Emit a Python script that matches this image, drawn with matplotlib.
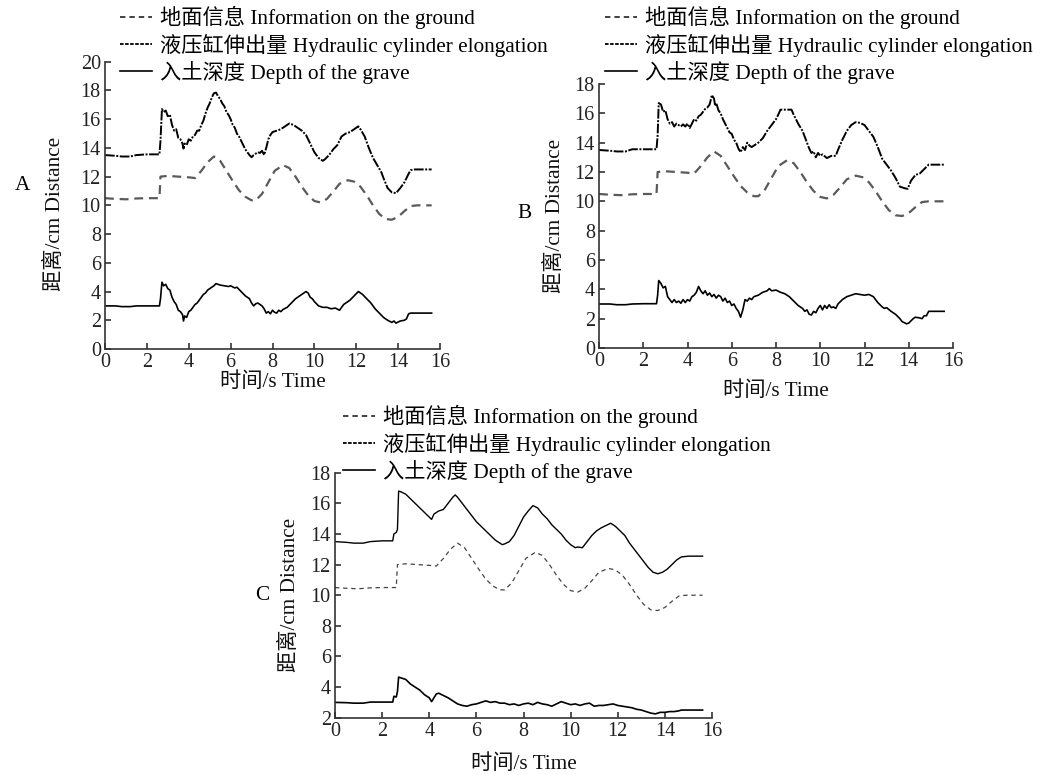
import matplotlib
matplotlib.use("Agg")
import matplotlib.pyplot as plt
from matplotlib.lines import Line2D

FAM = ['Liberation Serif', 'Noto Sans CJK SC', 'DejaVu Sans']
plt.rcParams['font.family'] = FAM
plt.rcParams['axes.unicode_minus'] = False

# ---------------- data ----------------
legend_labels = ['地面信息 Information on the ground',
                 '液压缸伸出量 Hydraulic cylinder elongation',
                 '入土深度 Depth of the grave']
x_label = '时间/s Time'
y_label = '距离/cm Distance'
panel_names = ['A', 'B', 'C']
x_ticks = [0, 2, 4, 6, 8, 10, 12, 14, 16]
y_ticks_AB = [[0, 2, 4, 6, 8, 10, 12, 14, 16, 18, 20],
              [0, 2, 4, 6, 8, 10, 12, 14, 16, 18]]
y_ticks_C = [2, 4, 6, 8, 10, 12, 14, 16, 18]

ground_t = [0, 0.5, 1.0, 1.5, 2.0, 2.6, 2.65, 3.0, 3.5, 4.0, 4.3, 4.6, 4.9, 5.2,
            5.5, 5.8, 6.1, 6.4, 6.7, 7.0, 7.2, 7.5, 7.8, 8.1, 8.5, 8.8, 9.1, 9.4,
            9.7, 10.0, 10.3, 10.6, 10.9, 11.2, 11.6, 11.9, 12.2, 12.5, 12.8, 13.1,
            13.4, 13.7, 14.0, 14.3, 14.6, 14.9, 15.6]
ground_v = [10.5, 10.45, 10.42, 10.48, 10.5, 10.5, 12.0, 12.05, 12.0, 11.95, 11.9,
            12.4, 13.0, 13.4, 13.1, 12.4, 11.7, 11.05, 10.6, 10.35, 10.35, 10.8, 11.6,
            12.4, 12.8, 12.6, 12.0, 11.3, 10.7, 10.3, 10.2, 10.45, 10.95, 11.5, 11.75,
            11.65, 11.3, 10.7, 10.0, 9.4, 9.05, 9.0, 9.2, 9.6, 9.95, 10.0, 10.0]

cyl_A = [(0, 13.5), (0.5, 13.45), (0.8, 13.4), (1.2, 13.4), (1.5, 13.5), (2.0, 13.55),
         (2.6, 13.55), (2.65, 14.5), (2.72, 16.7), (2.8, 16.5), (2.9, 16.6), (3.0, 16.2),
         (3.1, 16.3), (3.2, 15.6), (3.3, 15.2), (3.4, 15.3), (3.5, 14.7), (3.6, 14.6),
         (3.7, 14.3), (3.75, 13.95), (3.8, 14.3), (3.9, 14.2), (4.0, 14.6), (4.1, 14.5),
         (4.2, 14.8), (4.3, 14.9), (4.4, 15.2), (4.5, 15.2), (4.6, 15.6), (4.7, 15.9),
         (4.8, 16.4), (4.9, 16.8), (5.0, 17.1), (5.1, 17.5), (5.2, 17.8), (5.3, 17.85),
         (5.4, 17.6), (5.5, 17.4), (5.6, 17.1), (5.7, 16.9), (5.8, 16.5), (5.9, 16.3),
         (6.0, 16.0), (6.1, 15.6), (6.2, 15.4), (6.3, 15.0), (6.4, 14.8), (6.5, 14.5),
         (6.6, 14.2), (6.7, 13.9), (6.8, 13.7), (6.9, 13.5), (7.0, 13.35), (7.1, 13.5),
         (7.2, 13.6), (7.3, 13.7), (7.4, 13.65), (7.5, 13.8), (7.6, 13.5), (7.7, 14.0),
         (7.8, 14.6), (7.9, 14.9), (8.0, 15.1), (8.2, 15.2), (8.4, 15.3), (8.6, 15.5),
         (8.8, 15.7), (9.0, 15.6), (9.2, 15.4), (9.4, 15.2), (9.6, 14.9), (9.8, 14.3),
         (10.0, 13.7), (10.2, 13.3), (10.4, 13.1), (10.5, 13.2), (10.7, 13.5), (10.9, 13.9),
         (11.1, 14.2), (11.3, 14.8), (11.5, 15.0), (11.7, 15.1), (11.9, 15.3), (12.1, 15.5),
         (12.2, 15.3), (12.4, 14.8), (12.6, 14.0), (12.8, 13.3), (13.0, 12.8), (13.2, 12.3),
         (13.3, 11.9), (13.5, 11.2), (13.7, 10.9), (13.9, 10.85), (14.1, 11.2), (14.3, 11.6),
         (14.5, 12.2), (14.6, 12.45), (14.8, 12.5), (15.6, 12.5)]

depth_A = [(0, 3.0), (0.5, 3.0), (0.8, 2.95), (1.2, 2.95), (1.5, 3.0), (2.0, 3.0),
           (2.6, 3.0), (2.65, 3.5), (2.72, 4.65), (2.8, 4.4), (2.9, 4.5), (3.0, 4.2),
           (3.1, 4.1), (3.2, 3.6), (3.3, 3.3), (3.4, 3.1), (3.5, 2.7), (3.6, 2.6),
           (3.7, 2.4), (3.75, 1.95), (3.8, 2.3), (3.9, 2.2), (4.0, 2.6), (4.1, 2.7),
           (4.2, 2.9), (4.3, 3.1), (4.4, 3.2), (4.5, 3.4), (4.6, 3.6), (4.7, 3.8),
           (4.8, 3.9), (4.9, 4.1), (5.0, 4.2), (5.1, 4.3), (5.2, 4.4), (5.3, 4.55),
           (5.4, 4.5), (5.5, 4.45), (5.7, 4.4), (5.9, 4.35), (6.0, 4.4), (6.2, 4.25),
           (6.3, 4.3), (6.5, 4.0), (6.7, 3.7), (6.9, 3.5), (7.0, 3.2), (7.1, 3.0),
           (7.2, 3.15), (7.3, 3.2), (7.4, 3.1), (7.5, 3.0), (7.6, 2.8), (7.7, 2.5),
           (7.8, 2.6), (7.9, 2.45), (8.0, 2.7), (8.1, 2.55), (8.2, 2.5), (8.3, 2.7),
           (8.4, 2.6), (8.5, 2.75), (8.7, 2.9), (8.9, 3.2), (9.1, 3.5), (9.3, 3.7),
           (9.5, 3.9), (9.6, 4.0), (9.7, 3.9), (9.8, 3.6), (9.9, 3.5), (10.0, 3.3),
           (10.2, 3.0), (10.4, 2.9), (10.6, 2.9), (10.8, 2.8), (11.0, 2.85), (11.2, 2.7),
           (11.3, 2.9), (11.4, 3.1), (11.5, 3.2), (11.7, 3.4), (11.9, 3.7), (12.1, 4.0),
           (12.3, 3.8), (12.5, 3.5), (12.7, 3.2), (12.9, 2.8), (13.1, 2.5), (13.3, 2.2),
           (13.5, 2.0), (13.7, 1.85), (13.8, 1.95), (13.9, 1.8), (14.1, 1.95), (14.3, 2.0),
           (14.4, 2.1), (14.5, 2.45), (14.6, 2.5), (15.6, 2.5)]

cyl_B = [(0, 13.5), (0.5, 13.45), (0.8, 13.4), (1.2, 13.4), (1.5, 13.55), (2.0, 13.55),
         (2.6, 13.55), (2.65, 14.5), (2.7, 16.7), (2.8, 16.6), (2.9, 16.1), (3.0, 16.2),
         (3.1, 15.6), (3.2, 15.3), (3.3, 15.4), (3.4, 15.1), (3.5, 15.3), (3.6, 15.2),
         (3.7, 15.1), (3.8, 15.25), (3.9, 15.1), (4.0, 15.3), (4.1, 15.0), (4.2, 15.3),
         (4.3, 15.6), (4.4, 15.5), (4.5, 15.8), (4.6, 15.9), (4.7, 16.1), (4.8, 16.3),
         (4.9, 16.4), (5.0, 16.6), (5.05, 16.9), (5.1, 17.25), (5.2, 17.0), (5.25, 16.5),
         (5.3, 16.7), (5.4, 16.2), (5.5, 16.0), (5.6, 15.6), (5.7, 15.3), (5.8, 15.0),
         (5.9, 14.7), (6.0, 14.6), (6.1, 14.2), (6.2, 14.0), (6.3, 13.6), (6.4, 13.35),
         (6.5, 13.7), (6.6, 13.5), (6.7, 14.0), (6.8, 13.8), (6.9, 13.7), (7.0, 13.8),
         (7.2, 14.0), (7.4, 14.3), (7.6, 14.8), (7.8, 15.2), (8.0, 15.6), (8.1, 15.9),
         (8.2, 16.25), (8.7, 16.25), (8.8, 15.9), (9.0, 15.3), (9.2, 14.8), (9.4, 14.0),
         (9.5, 13.6), (9.6, 13.3), (9.7, 13.4), (9.8, 13.0), (9.9, 13.3), (10.0, 13.1),
         (10.1, 13.2), (10.3, 12.95), (10.5, 13.1), (10.7, 13.1), (10.8, 13.5), (11.0, 14.2),
         (11.2, 14.8), (11.4, 15.2), (11.6, 15.4), (11.8, 15.35), (12.0, 15.2), (12.2, 14.8),
         (12.4, 14.4), (12.6, 13.7), (12.8, 12.9), (13.0, 12.5), (13.2, 12.1), (13.4, 11.6),
         (13.6, 11.0), (13.8, 10.9), (13.95, 10.85), (14.1, 11.4), (14.3, 11.8), (14.5, 11.9),
         (14.7, 12.2), (14.9, 12.5), (15.6, 12.5)]

depth_B = [(0, 3.0), (0.5, 3.0), (0.8, 2.95), (1.2, 2.95), (1.5, 3.0), (2.0, 3.02),
           (2.6, 3.02), (2.65, 3.6), (2.7, 4.6), (2.8, 4.4), (2.9, 4.1), (3.0, 4.2),
           (3.1, 3.5), (3.2, 3.3), (3.3, 3.1), (3.4, 3.3), (3.5, 3.1), (3.6, 3.2),
           (3.7, 3.05), (3.8, 3.3), (3.9, 3.1), (4.0, 3.3), (4.1, 3.2), (4.2, 3.5),
           (4.3, 3.6), (4.4, 3.8), (4.5, 4.2), (4.6, 3.9), (4.7, 3.7), (4.8, 3.9),
           (4.9, 3.6), (5.0, 3.75), (5.1, 3.5), (5.2, 3.65), (5.3, 3.4), (5.4, 3.6),
           (5.5, 3.5), (5.6, 3.2), (5.7, 3.4), (5.8, 3.1), (5.9, 3.2), (6.0, 2.9),
           (6.1, 3.0), (6.2, 2.7), (6.3, 2.5), (6.4, 2.1), (6.5, 2.6), (6.6, 3.3),
           (6.7, 3.2), (6.8, 3.4), (6.9, 3.3), (7.0, 3.5), (7.2, 3.6), (7.4, 3.8),
           (7.6, 3.9), (7.7, 4.05), (7.8, 3.9), (8.0, 3.95), (8.2, 3.8), (8.4, 3.7),
           (8.6, 3.5), (8.8, 3.2), (9.0, 2.9), (9.2, 2.7), (9.3, 2.5), (9.4, 2.6),
           (9.5, 2.3), (9.6, 2.25), (9.7, 2.5), (9.8, 2.4), (9.9, 2.7), (10.0, 2.9),
           (10.1, 2.6), (10.2, 2.9), (10.3, 2.7), (10.4, 2.95), (10.5, 2.75), (10.6, 2.8),
           (10.7, 2.7), (10.8, 3.0), (11.0, 3.3), (11.2, 3.5), (11.4, 3.6), (11.6, 3.7),
           (11.8, 3.65), (12.0, 3.6), (12.2, 3.65), (12.4, 3.5), (12.6, 3.1), (12.8, 2.8),
           (12.9, 2.7), (13.0, 2.75), (13.2, 2.5), (13.4, 2.3), (13.6, 2.0), (13.7, 1.8),
           (13.9, 1.65), (14.0, 1.7), (14.2, 2.0), (14.3, 2.1), (14.5, 2.05), (14.6, 2.0),
           (14.7, 2.2), (14.8, 2.2), (14.9, 2.5), (15.6, 2.5)]

cyl_C = [(0, 13.5), (0.5, 13.45), (0.8, 13.4), (1.2, 13.4), (1.5, 13.5), (2.0, 13.55),
         (2.45, 13.55), (2.5, 14.0), (2.6, 14.1), (2.65, 14.3), (2.7, 16.8), (2.8, 16.75),
         (3.0, 16.6), (3.2, 16.3), (3.4, 16.0), (3.6, 15.7), (3.8, 15.4), (4.0, 15.1),
         (4.1, 14.95), (4.2, 15.3), (4.4, 15.5), (4.6, 15.6), (4.8, 16.0), (5.0, 16.4),
         (5.1, 16.55), (5.2, 16.4), (5.4, 16.0), (5.6, 15.6), (5.8, 15.2), (6.0, 14.8),
         (6.2, 14.5), (6.4, 14.2), (6.6, 13.9), (6.8, 13.6), (7.0, 13.4), (7.1, 13.3),
         (7.2, 13.35), (7.4, 13.5), (7.6, 13.9), (7.8, 14.5), (8.0, 15.1), (8.2, 15.5),
         (8.4, 15.85), (8.6, 15.7), (8.8, 15.3), (9.0, 15.0), (9.2, 14.6), (9.4, 14.3),
         (9.6, 14.0), (9.8, 13.6), (10.0, 13.3), (10.2, 13.1), (10.3, 13.15), (10.5, 13.1),
         (10.7, 13.5), (10.9, 13.9), (11.1, 14.2), (11.3, 14.4), (11.5, 14.55), (11.7, 14.7),
         (11.9, 14.5), (12.1, 14.2), (12.3, 13.9), (12.5, 13.4), (12.7, 13.0), (12.9, 12.6),
         (13.1, 12.2), (13.3, 11.8), (13.5, 11.5), (13.7, 11.4), (13.9, 11.5), (14.1, 11.7),
         (14.3, 12.0), (14.5, 12.3), (14.7, 12.5), (15.0, 12.55), (15.6, 12.55)]

depth_C = [(0, 3.0), (0.5, 2.98), (0.8, 2.95), (1.2, 2.95), (1.5, 3.02), (2.0, 3.02),
           (2.45, 3.02), (2.5, 3.4), (2.6, 3.35), (2.65, 3.7), (2.7, 4.65), (2.8, 4.6),
           (3.0, 4.5), (3.2, 4.2), (3.4, 4.0), (3.6, 3.8), (3.8, 3.5), (4.0, 3.3),
           (4.1, 3.05), (4.2, 3.3), (4.3, 3.55), (4.4, 3.6), (4.6, 3.45), (4.8, 3.3),
           (5.0, 3.1), (5.2, 2.9), (5.4, 2.8), (5.6, 2.75), (5.8, 2.85), (6.0, 2.9),
           (6.2, 3.0), (6.4, 3.1), (6.6, 3.0), (6.8, 3.05), (7.0, 2.95), (7.2, 2.95),
           (7.4, 2.85), (7.6, 2.9), (7.8, 2.8), (8.0, 2.9), (8.2, 2.95), (8.4, 2.85),
           (8.6, 3.0), (8.8, 2.9), (9.0, 2.85), (9.2, 2.75), (9.4, 2.9), (9.6, 3.05),
           (9.8, 2.95), (10.0, 2.85), (10.2, 2.9), (10.4, 2.8), (10.6, 2.9), (10.8, 2.95),
           (11.0, 2.75), (11.2, 2.8), (11.4, 2.8), (11.6, 2.85), (11.8, 2.9), (12.0, 2.8),
           (12.2, 2.75), (12.4, 2.7), (12.6, 2.65), (12.8, 2.55), (13.0, 2.5), (13.2, 2.4),
           (13.4, 2.3), (13.6, 2.25), (13.8, 2.35), (14.0, 2.35), (14.2, 2.4), (14.4, 2.4),
           (14.6, 2.45), (14.7, 2.5), (15.6, 2.5)]

# ---------------- figure ----------------
W, H = 1043, 775
fig = plt.figure(figsize=(W / 100, H / 100), dpi=100)
FS = 14.5
LFS = 15.3


def px_axes(l, t, r, b):
    return fig.add_axes([l / W, 1 - b / H, (r - l) / W, (b - t) / H])


panels = [
    dict(box=(105, 61.7, 440, 349), ylim=(0, 20), yt=y_ticks_AB[0], cyl=cyl_A, dep=depth_A,
         leg=(120, 6), name_xy=(15, 185), ylab=(-0.119, 0.47), xlab=(0.5, -0.08), thin=False),
    dict(box=(599, 84, 953, 348), ylim=(0, 18), yt=y_ticks_AB[1], cyl=cyl_B, dep=depth_B,
         leg=(605, 6), name_xy=(517, 214), ylab=(-0.096, 0.5), xlab=(0.5, -0.125), thin=False),
    dict(box=(335, 472.7, 712, 717.7), ylim=(2, 18), yt=y_ticks_C, cyl=cyl_C, dep=depth_C,
         leg=(343, 405), name_xy=(255, 596), ylab=(-0.093, 0.5), xlab=(0.5, -0.148), thin=True),
]

for name, p in zip(panel_names, panels):
    ax = px_axes(*p['box'])
    if p['thin']:
        g_style = dict(color='#444444', lw=0.9, linestyle=(0, (3.5, 3)))
        c_style = dict(color='black', lw=1.0, linestyle='-')
    else:
        g_style = dict(color='#5a5a5a', lw=1.6, linestyle=(0, (4, 2.6)))
        c_style = dict(color='black', lw=1.4, linestyle=(0, (5, 0.8, 1, 0.8)))
    ax.plot(ground_t, ground_v, **g_style)
    ax.plot([a for a, b in p['cyl']], [b for a, b in p['cyl']], **c_style)
    ax.plot([a for a, b in p['dep']], [b for a, b in p['dep']], color='black', lw=1.2)

    ax.set_xlim(0, 16)
    ax.set_ylim(*p['ylim'])
    ax.set_xticks(x_ticks)
    ax.set_yticks(p['yt'])
    for s in ['top', 'right']:
        ax.spines[s].set_visible(False)
    for s in ['left', 'bottom']:
        ax.spines[s].set_linewidth(1.2)
        ax.spines[s].set_color('#333333')
    ax.tick_params(direction='in', length=4, width=1.1, labelsize=FS, pad=3,
                   colors='#222222')
    for lab in ax.get_xticklabels() + ax.get_yticklabels():
        lab.set_fontfamily(FAM)
    ax.set_xlabel(x_label, fontsize=LFS, family=FAM, color='#111111')
    ax.set_ylabel(y_label, fontsize=LFS, family=FAM, color='#111111')
    ax.yaxis.set_label_coords(*p['ylab'])
    ax.xaxis.set_label_coords(*p['xlab'])

    handles = [Line2D([], [], color='#333333', lw=1.3, linestyle=(0, (3, 2.2))),
               Line2D([], [], color='black', lw=1.3, linestyle=(0, (2, 0.8))),
               Line2D([], [], color='black', lw=1.2, linestyle='-')]
    lx, ly = p['leg']
    fig.legend(handles, legend_labels, loc='upper left',
               bbox_to_anchor=(lx / W, 1 - ly / H), bbox_transform=fig.transFigure,
               frameon=False, borderpad=0, borderaxespad=0, handlelength=1.5,
               handletextpad=0.4, labelspacing=0.2,
               prop=dict(family=FAM, size=LFS))
    nx, ny = p['name_xy']
    fig.text(nx / W, 1 - ny / H, name, fontsize=LFS, family=FAM, ha='left', va='center')

fig.savefig('out.png', dpi=100)
